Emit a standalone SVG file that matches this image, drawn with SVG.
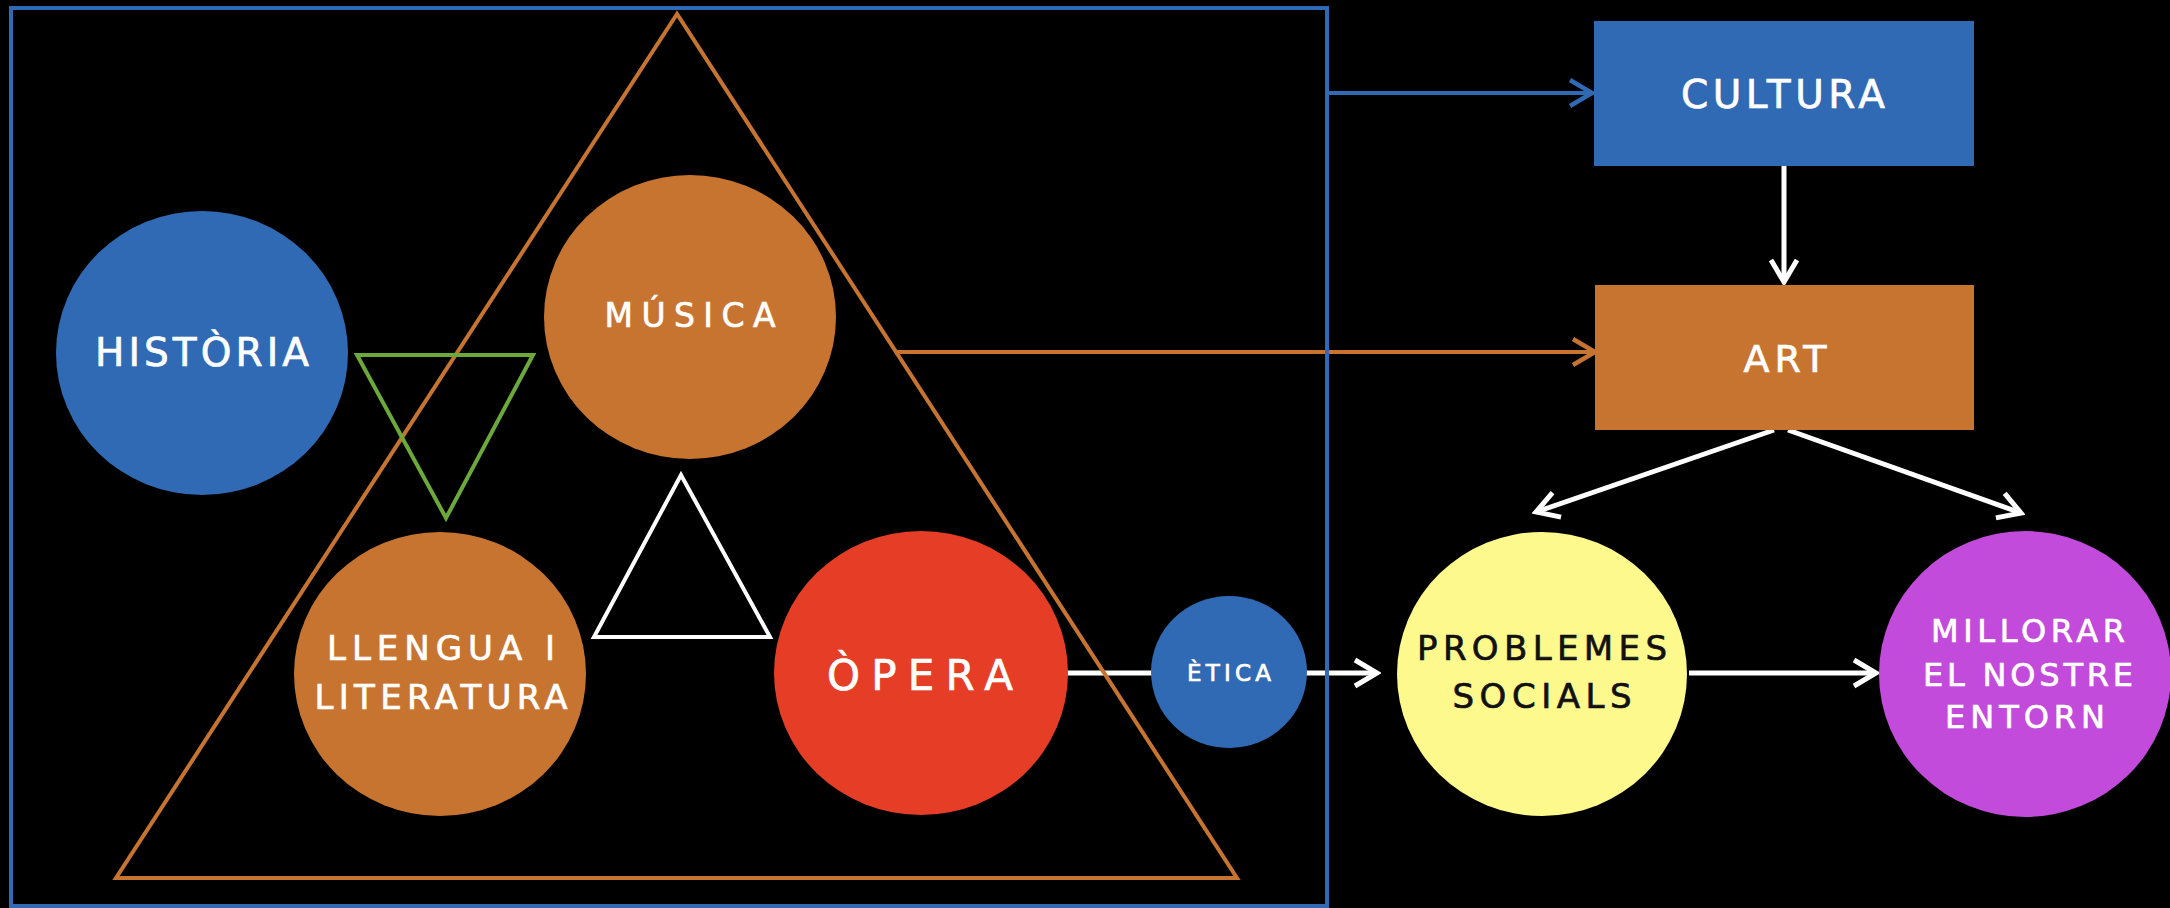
<svg xmlns="http://www.w3.org/2000/svg" width="2170" height="908" viewBox="0 0 2170 908">
  <style>
    .bg { fill: #000000; }
    .lbl { font-family: "DejaVu Sans", "Open Sans", "Liberation Sans", sans-serif; font-weight: 400; fill: #ffffff; stroke: #ffffff; stroke-width: 0.7; text-anchor: middle; }
    .dark { fill: #111111; stroke: #111111; }
    .blue { fill: #306AB5; }
    .orange { fill: #C87431; }
    .red { fill: #E63E26; }
    .yellow { fill: #FEF98D; }
    .purple { fill: #C24BDB; }
    .wire { fill: none; stroke-width: 5; }
    .w { stroke: #ffffff; }
    .ob { stroke: #C87431; stroke-width: 4; }
    .bb { stroke: #306AB5; stroke-width: 4; }
    .outline { fill: none; stroke-width: 4; stroke-linejoin: miter; }
  </style>
  <defs>
    <marker id="arrW" markerUnits="userSpaceOnUse" viewBox="-28 -18 32 36" markerWidth="32" markerHeight="36" refX="0" refY="0" orient="auto">
      <path d="M-22,-13 L0,0 L-22,13" fill="none" stroke="#ffffff" stroke-width="5"/>
    </marker>
    <marker id="arrB" markerUnits="userSpaceOnUse" viewBox="-28 -18 32 36" markerWidth="32" markerHeight="36" refX="0" refY="0" orient="auto">
      <path d="M-22,-13 L0,0 L-22,13" fill="none" stroke="#306AB5" stroke-width="4.5"/>
    </marker>
    <marker id="arrO" markerUnits="userSpaceOnUse" viewBox="-28 -18 32 36" markerWidth="32" markerHeight="36" refX="0" refY="0" orient="auto">
      <path d="M-22,-13 L0,0 L-22,13" fill="none" stroke="#C87431" stroke-width="4.5"/>
    </marker>
  </defs>

  <rect class="bg" x="0" y="0" width="2170" height="908"/>

  <g id="connectors">
    <line class="wire bb" x1="1327" y1="93" x2="1592" y2="93" marker-end="url(#arrB)"/>
    <line class="wire ob" x1="897" y1="352" x2="1595" y2="352" marker-end="url(#arrO)"/>
    <line class="wire w" x1="1784" y1="166" x2="1784" y2="282" marker-end="url(#arrW)"/>
    <line class="wire w" x1="1774" y1="430" x2="1536" y2="512" marker-end="url(#arrW)"/>
    <line class="wire w" x1="1788" y1="430" x2="2021" y2="513" marker-end="url(#arrW)"/>
    <line class="wire w" x1="1066" y1="673" x2="1154" y2="673"/>
    <line class="wire w" x1="1304" y1="673" x2="1377" y2="673" marker-end="url(#arrW)"/>
    <line class="wire w" x1="1689" y1="673" x2="1876" y2="673" marker-end="url(#arrW)"/>
  </g>

  <g id="frame">
    <rect class="outline bb" x="11" y="8" width="1316" height="898"/>
  </g>
  <g id="big-triangle">
    <polygon class="outline ob" points="677,14 116,878 1237,878"/>
  </g>
  <g id="green-triangle">
    <polygon class="outline" stroke="#6BAA3A" points="357,355 533,355 446,518"/>
  </g>
  <g id="white-triangle">
    <polygon class="outline w" points="681,475 594,637 770,637"/>
  </g>

  <g id="historia">
    <ellipse class="blue" cx="202" cy="353" rx="146" ry="142"/>
    <text class="lbl" x="202" y="366" font-size="39" textLength="214" lengthAdjust="spacing">HISTÒRIA</text>
  </g>
  <g id="musica">
    <ellipse class="orange" cx="690" cy="317" rx="146" ry="142"/>
    <text class="lbl" x="690" y="327" font-size="33" textLength="171" lengthAdjust="spacing">MÚSICA</text>
  </g>
  <g id="llengua">
    <ellipse class="orange" cx="440" cy="674" rx="146" ry="142"/>
    <text class="lbl" x="441" y="660" font-size="34" textLength="228" lengthAdjust="spacing">LLENGUA I</text>
    <text class="lbl" x="441" y="709" font-size="34" textLength="253" lengthAdjust="spacing">LITERATURA</text>
  </g>
  <g id="opera">
    <ellipse class="red" cx="921" cy="673" rx="147" ry="142"/>
    <text class="lbl" x="920" y="690" font-size="42" textLength="186" lengthAdjust="spacing">ÒPERA</text>
  </g>
  <g id="etica">
    <ellipse class="blue" cx="1229" cy="672" rx="78" ry="76"/>
    <text class="lbl" x="1229" y="681" font-size="23" textLength="84" lengthAdjust="spacing">ÈTICA</text>
  </g>
  <g id="problemes">
    <ellipse class="yellow" cx="1542" cy="674" rx="145" ry="142"/>
    <text class="lbl dark" x="1542" y="660" font-size="34" textLength="250" lengthAdjust="spacing">PROBLEMES</text>
    <text class="lbl dark" x="1542" y="708" font-size="34" textLength="179" lengthAdjust="spacing">SOCIALS</text>
  </g>
  <g id="millorar">
    <ellipse class="purple" cx="2025" cy="674" rx="146" ry="143"/>
    <text class="lbl" x="2028" y="642" font-size="32" textLength="194" lengthAdjust="spacing">MILLORAR</text>
    <text class="lbl" x="2028" y="686" font-size="32" textLength="210" lengthAdjust="spacing">EL NOSTRE</text>
    <text class="lbl" x="2025" y="728" font-size="32" textLength="160" lengthAdjust="spacing">ENTORN</text>
  </g>
  <g id="cultura">
    <rect class="blue" x="1594" y="21" width="380" height="145"/>
    <text class="lbl" x="1783" y="108" font-size="39" textLength="204" lengthAdjust="spacing">CULTURA</text>
  </g>
  <g id="art">
    <rect class="orange" x="1595" y="285" width="379" height="145"/>
    <text class="lbl" x="1785" y="372" font-size="38" textLength="83" lengthAdjust="spacing">ART</text>
  </g>
</svg>
